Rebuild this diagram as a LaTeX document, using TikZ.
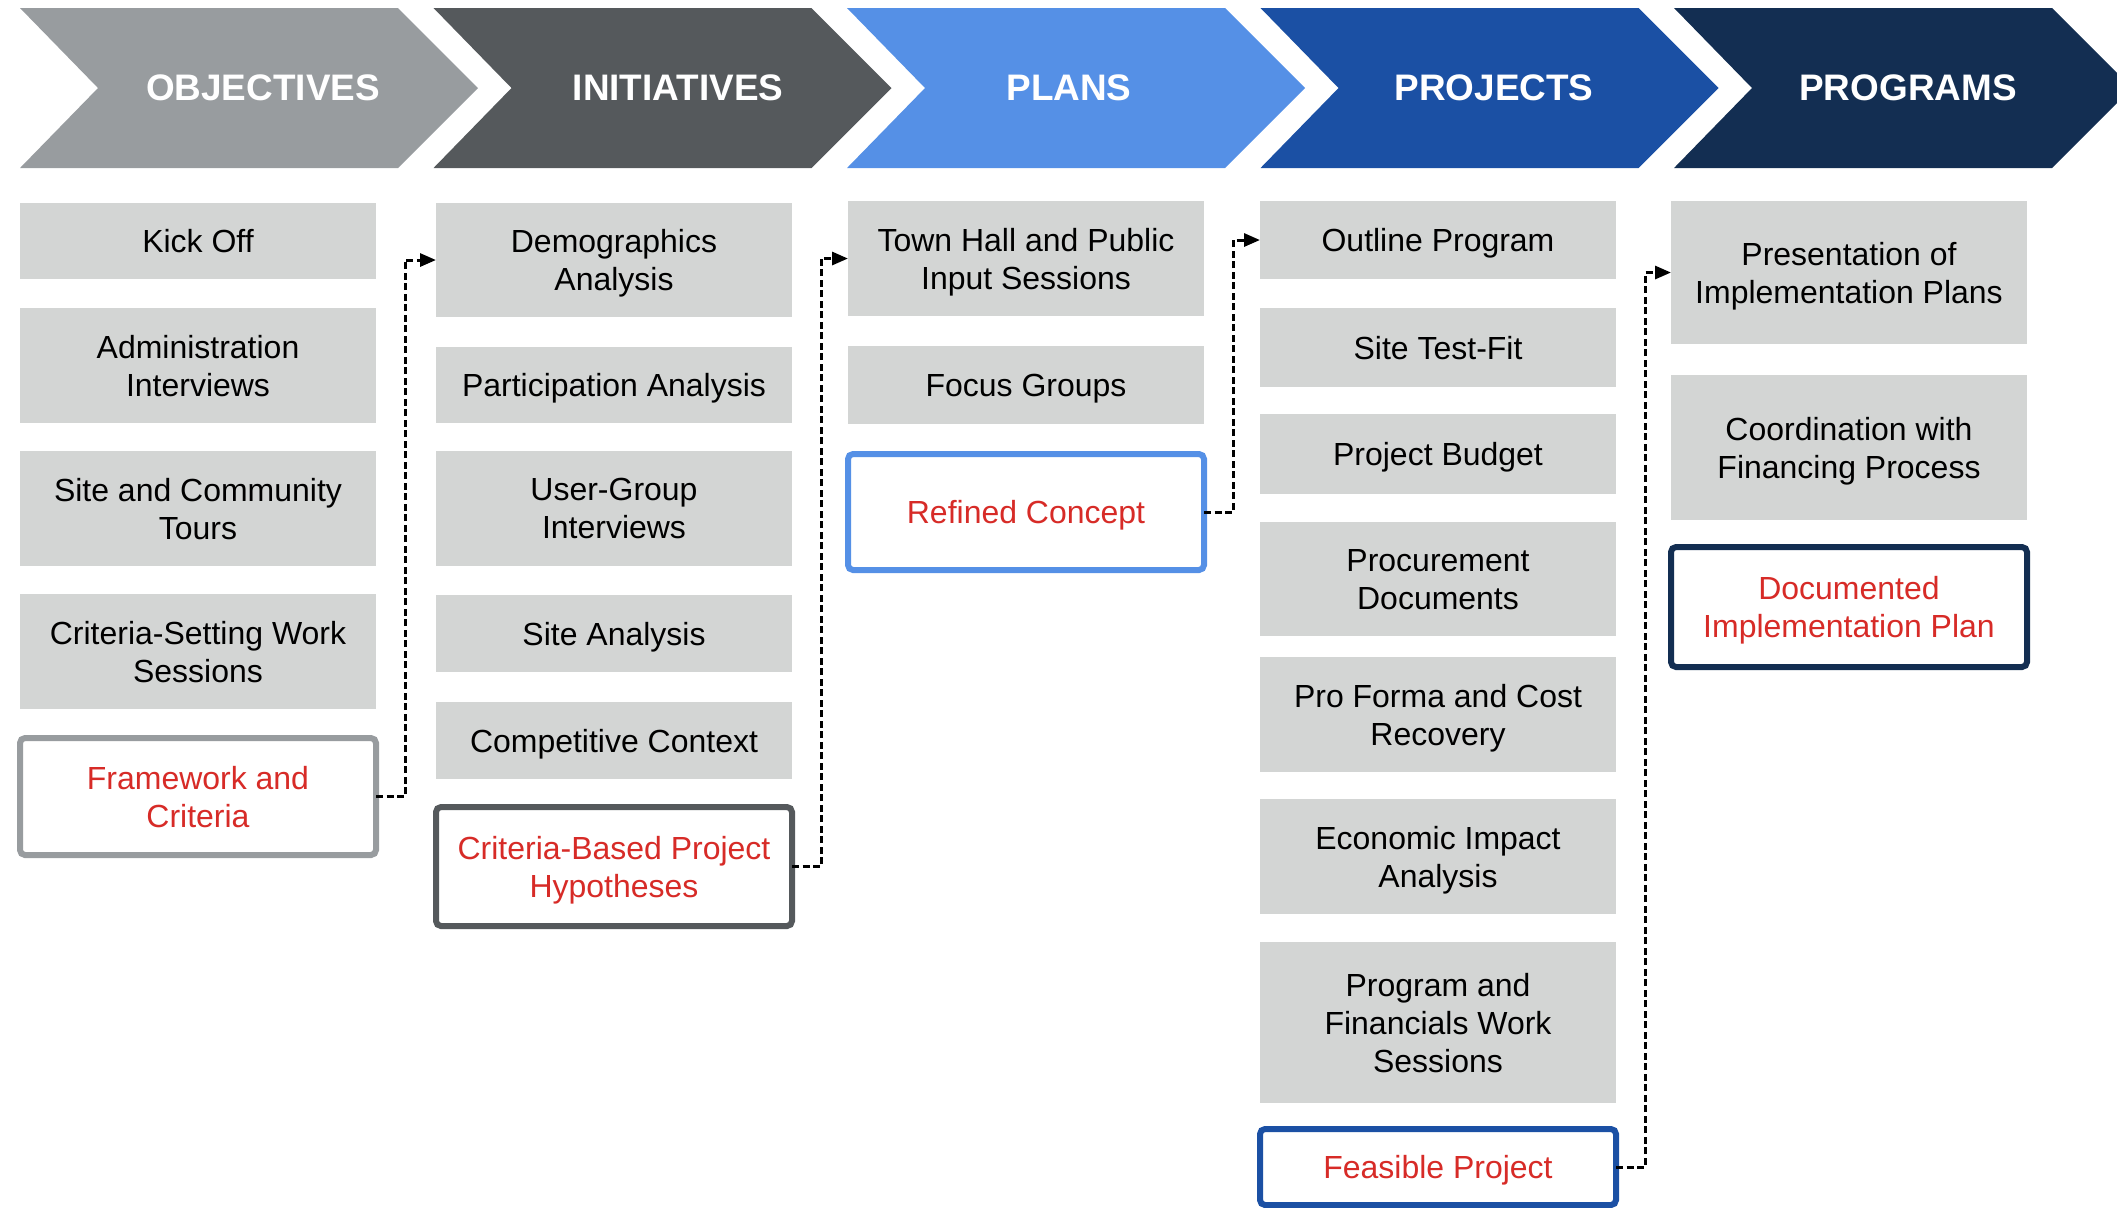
\documentclass[tikz,border=0pt]{standalone}
\usepackage{fontspec}
\setmainfont{Liberation Sans}
\usetikzlibrary{arrows.meta}
\definecolor{cObj}{HTML}{989C9F}
\definecolor{cIni}{HTML}{55595C}
\definecolor{cPla}{HTML}{5590E6}
\definecolor{cPro}{HTML}{1B50A4}
\definecolor{cPrg}{HTML}{132E52}
\definecolor{boxgray}{HTML}{D3D5D4}
\definecolor{txtred}{HTML}{D72B27}
\begin{document}
\begin{tikzpicture}[x=0.1mm,y=-0.1mm,
		itembox/.style={fill=boxgray,anchor=north west,minimum width=35.6mm,inner sep=0pt,outer sep=0pt,text depth=0pt,align=center,font=\fontsize{9.1}{10.8}\selectfont},
		resultbox/.style={itembox,fill=white,draw=#1,line width=0.6mm,rounded corners=0.5mm,text=txtred},
		linkline/.style={line width=0.3mm,dash pattern=on 0.7mm off 0.35mm,-{Triangle[length=1.6mm,width=1.3mm]}},
		stagetext/.style={text=white,font=\fontsize{10.5}{12}\selectfont\bfseries}]
		\useasboundingbox (0,0) rectangle (2117,1207);
		\clip (0,0) rectangle (2117,1207);
		% stage chevrons
		\foreach \i/\name/\col/\tx in {0/OBJECTIVES/cObj/263,1/INITIATIVES/cIni/678,2/PLANS/cPla/1069,3/PROJECTS/cPro/1494,4/PROGRAMS/cPrg/1908} {
			\pgfmathsetmacro\L{20+413.5*\i}
			\fill[\col] (\L,8) -- ++(378,0) -- ++(80,80) -- ++(-80,80) -- ++(-378,0) -- ++(78,-80) -- cycle;
			\node[stagetext] (stage\i) at (\tx,88) {\name};
		}
		% objectives
		\node[itembox,minimum height=7.6mm] (kick) at (20,203) {Kick Off};
		\node[itembox,minimum height=11.5mm] (admin) at (20,308) {Administration\\Interviews};
		\node[itembox,minimum height=11.5mm] (tours) at (20,451) {Site and Community\\Tours};
		\node[itembox,minimum height=11.5mm] (critset) at (20,594) {Criteria-Setting Work\\Sessions};
		\node[resultbox=cObj,minimum height=11.7mm] (frame) at (20,738) {Framework and\\Criteria};
		% initiatives
		\node[itembox,minimum height=11.4mm] (demo) at (436,203) {Demographics\\Analysis};
		\node[itembox,minimum height=7.6mm] (partic) at (436,347) {Participation Analysis};
		\node[itembox,minimum height=11.5mm] (usergrp) at (436,451) {User-Group\\Interviews};
		\node[itembox,minimum height=7.7mm] (siteana) at (436,595) {Site Analysis};
		\node[itembox,minimum height=7.7mm] (compet) at (436,702) {Competitive Context};
		\node[resultbox=cIni,minimum height=11.9mm] (hypo) at (436,807) {Criteria-Based Project\\Hypotheses};
		% plans
		\node[itembox,minimum height=11.5mm] (townhall) at (848,201) {Town Hall and Public\\Input Sessions};
		\node[itembox,minimum height=7.8mm] (focus) at (848,346) {Focus Groups};
		\node[resultbox=cPla,minimum height=11.6mm] (refined) at (848,454) {Refined Concept};
		% projects
		\node[itembox,minimum height=7.8mm] (outline) at (1260,201) {Outline Program};
		\node[itembox,minimum height=7.9mm] (testfit) at (1260,308) {Site Test-Fit};
		\node[itembox,minimum height=8mm] (budget) at (1260,414) {Project Budget};
		\node[itembox,minimum height=11.4mm] (procure) at (1260,522) {Procurement\\Documents};
		\node[itembox,minimum height=11.5mm] (proforma) at (1260,657) {Pro Forma and Cost\\Recovery};
		\node[itembox,minimum height=11.5mm] (econ) at (1260,799) {Economic Impact\\Analysis};
		\node[itembox,minimum height=16.1mm] (finwork) at (1260,942) {Program and\\Financials Work\\Sessions};
		\node[resultbox=cPro,minimum height=7.6mm] (feasible) at (1260,1129) {Feasible Project};
		% programs
		\node[itembox,minimum height=14.3mm] (present) at (1671,201) {Presentation of\\Implementation Plans};
		\node[itembox,minimum height=14.5mm] (coord) at (1671,375) {Coordination with\\Financing Process};
		\node[resultbox=cPrg,minimum height=12mm] (document) at (1671,547) {Documented\\Implementation Plan};
		% links
		\draw[linkline] (frame.east) -- ++(29,0) |- (demo.west);
		\draw[linkline] (hypo.east) -- ++(29,0) |- (townhall.west);
		\draw[linkline] (refined.east) -- ++(29,0) |- (outline.west);
		\draw[linkline] (feasible.east) -- ++(29,0) |- (present.west);
	\end{tikzpicture}
\end{document}
